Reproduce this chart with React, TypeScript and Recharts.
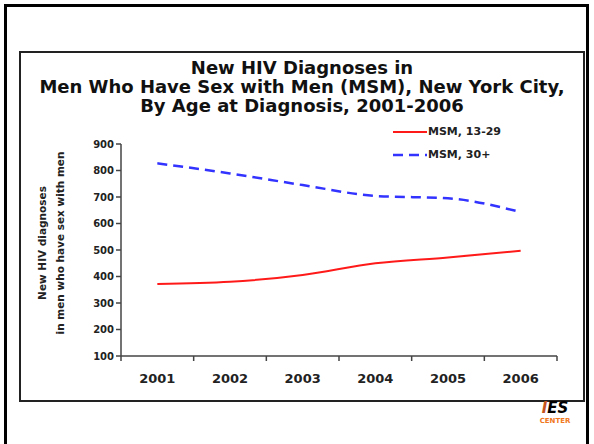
import React from "react"
import { LineChart, Line, XAxis, YAxis } from "recharts"

// values
const years = [2001, 2002, 2003, 2004, 2005, 2006]
const young = [372, 380, 406, 450, 472, 497]
const older = [827, 789, 745, 704, 695, 643]
const yTicks = [100, 200, 300, 400, 500, 600, 700, 800, 900]
const yearEdges = [2000.5, 2001.5, 2002.5, 2003.5, 2004.5, 2005.5, 2006.5]

const data = years.map((year, i) => ({ year, young: young[i], older: older[i] }))

const FONT = "'DejaVu Sans', Verdana, sans-serif"

const LegendBox = () => (
  <div style={{ position: "absolute", left: 393, top: 120, fontFamily: FONT, fontWeight: "bold", fontSize: 11, color: "#222" }}>
    <div style={{ display: "flex", alignItems: "center", height: 23 }}>
      <svg width={34} height={6}>
        <line x1={0} y1={3} x2={34} y2={3} stroke="#ff1a1a" strokeWidth={2} />
      </svg>
      <span style={{ marginLeft: 1 }}>MSM, 13-29</span>
    </div>
    <div style={{ display: "flex", alignItems: "center", height: 23 }}>
      <svg width={34} height={6}>
        <line x1={0} y1={3} x2={34} y2={3} stroke="#3333ff" strokeWidth={2.5} strokeDasharray="10 6" />
      </svg>
      <span style={{ marginLeft: 1 }}>MSM, 30+</span>
    </div>
  </div>
)

export default function App() {
  return (
    <div style={{ position: "absolute", left: 0, top: 0, width: 594, height: 444, background: "#fff", overflow: "hidden" }}>
      {/* slide frame */}
      <div style={{ position: "absolute", left: 4, top: 4, width: 585, height: 460, border: "3px solid #000", boxSizing: "border-box" }} />
      {/* chart box */}
      <div style={{ position: "absolute", left: 19, top: 51, width: 566, height: 351, border: "2px solid #222", boxSizing: "border-box" }} />

      <div
        style={{
          position: "absolute",
          left: 19,
          width: 566,
          top: 58,
          textAlign: "center",
          fontFamily: FONT,
          fontWeight: "bold",
          fontSize: 18,
          lineHeight: "19px",
          color: "#111",
        }}
      >
        New HIV Diagnoses in
        <br />
        Men Who Have Sex with Men (MSM), New York City,
        <br />
        By Age at Diagnosis, 2001-2006
      </div>

      {/* y axis title */}
      <div style={{ position: "absolute", left: 51, top: 243, width: 0, height: 0 }}>
        <div
          style={{
            position: "absolute",
            transform: "translate(-50%, -50%) rotate(-90deg)",
            whiteSpace: "nowrap",
            textAlign: "center",
            fontFamily: FONT,
            fontWeight: "bold",
            fontSize: 10.5,
            lineHeight: "18px",
            color: "#222",
          }}
        >
          New HIV diagnoses
          <br />
          in men who have sex with men
        </div>
      </div>

      <LegendBox />

      <div style={{ position: "absolute", left: 0, top: 0 }}>
        <LineChart width={594} height={444} data={data} margin={{ top: 144, right: 37, bottom: 48, left: 67 }}>
          <XAxis
            xAxisId="edges"
            type="number"
            dataKey="year"
            domain={[2000.5, 2006.5]}
            ticks={yearEdges}
            tickFormatter={() => ""}
            axisLine={{ stroke: "#444", strokeWidth: 1.5 }}
            tickLine={{ stroke: "#444", strokeWidth: 1.5 }}
            tickSize={5}
            height={10}
          />
          <XAxis
            xAxisId="years"
            type="number"
            dataKey="year"
            domain={[2000.5, 2006.5]}
            ticks={years}
            axisLine={false}
            tickLine={false}
            tick={{ fill: "#222", fontSize: 13, fontWeight: "bold", fontFamily: FONT }}
            height={30}
          />
          <YAxis
            type="number"
            domain={[100, 900]}
            ticks={yTicks}
            width={54}
            axisLine={{ stroke: "#444", strokeWidth: 1.5 }}
            tickLine={{ stroke: "#444", strokeWidth: 1.5 }}
            tickSize={5}
            tick={{ fill: "#222", fontSize: 10, fontWeight: "bold", fontFamily: FONT }}
          />
          <Line
            xAxisId="years"
            dataKey="young"
            type="monotone"
            stroke="#ff1a1a"
            strokeWidth={2}
            dot={false}
            isAnimationActive={false}
          />
          <Line
            xAxisId="years"
            dataKey="older"
            type="monotone"
            stroke="#3333ff"
            strokeWidth={2.5}
            strokeDasharray="10 6"
            dot={false}
            isAnimationActive={false}
          />
        </LineChart>
      </div>

      {/* logo */}
      <div style={{ position: "absolute", left: 535, top: 401, width: 40, textAlign: "center", fontFamily: FONT, fontWeight: "bold" }}>
        <div style={{ fontSize: 15, lineHeight: "15px", fontStyle: "italic", whiteSpace: "nowrap" }}>
          <span style={{ color: "#c4541c" }}>I</span>
          <span style={{ color: "#000" }}>ES</span>
        </div>
        <div style={{ fontSize: 7, lineHeight: "8px", marginTop: 1, color: "#f07820" }}>CENTER</div>
      </div>
    </div>
  )
}
